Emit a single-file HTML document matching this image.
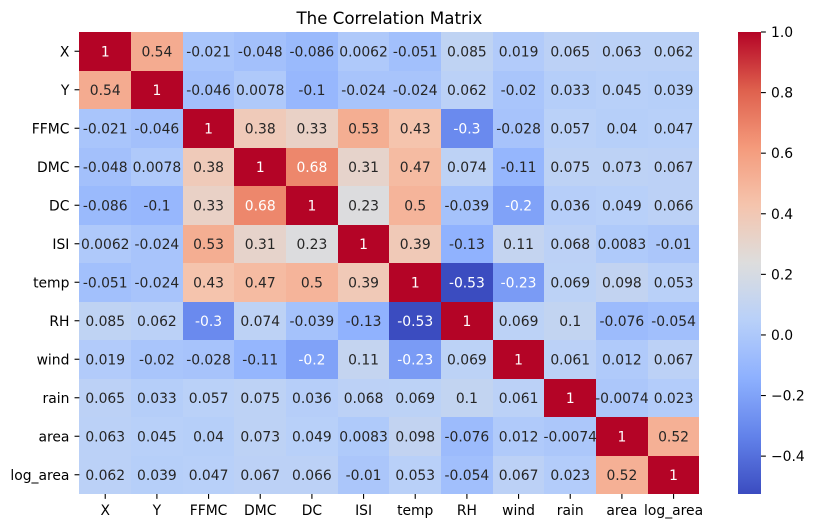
<!DOCTYPE html>
<html lang="en">
<head>
<meta charset="utf-8">
<title>The Correlation Matrix</title>
<style>
html,body{margin:0;padding:0;background:#fff;width:814px;height:528px;overflow:hidden}
svg{display:block}
text{font-family:"DejaVu Sans","Liberation Sans",sans-serif;font-size:13.89px}
</style>
</head>
<body>
<svg id="chart" width="814" height="528" viewBox="0 0 814 528" xmlns="http://www.w3.org/2000/svg">
  <defs>
    <linearGradient id="cbar-gradient" x1="0" y1="1" x2="0" y2="0"></linearGradient>
  </defs>
  <rect x="0" y="0" width="814" height="528" fill="#ffffff"></rect>
  <text x="389.4" y="24" text-anchor="middle" style="font-size:16.67px" fill="#000">The Correlation Matrix</text>
  <g id="cells" shape-rendering="crispEdges"></g>
  <g id="annots"></g>
  <g id="xaxis"></g>
  <g id="yaxis"></g>
  <rect id="cbar" x="738" y="32" width="23" height="462" fill="url(#cbar-gradient)"></rect>
  <g id="cbar-axis"></g>
</svg>
<script>
const categories = ["X","Y","FFMC","DMC","DC","ISI","temp","RH","wind","rain","area","log_area"];
const rowX = [1,0.54,-0.021,-0.048,-0.086,0.0062,-0.051,0.085,0.019,0.065,0.063,0.062];
const rowY = [0.54,1,-0.046,0.0078,-0.1,-0.024,-0.024,0.062,-0.02,0.033,0.045,0.039];
const rowFFMC = [-0.021,-0.046,1,0.38,0.33,0.53,0.43,-0.3,-0.028,0.057,0.04,0.047];
const rowDMC = [-0.048,0.0078,0.38,1,0.68,0.31,0.47,0.074,-0.11,0.075,0.073,0.067];
const rowDC = [-0.086,-0.1,0.33,0.68,1,0.23,0.5,-0.039,-0.2,0.036,0.049,0.066];
const rowISI = [0.0062,-0.024,0.53,0.31,0.23,1,0.39,-0.13,0.11,0.068,0.0083,-0.01];
const rowTemp = [-0.051,-0.024,0.43,0.47,0.5,0.39,1,-0.53,-0.23,0.069,0.098,0.053];
const rowRH = [0.085,0.062,-0.3,0.074,-0.039,-0.13,-0.53,1,0.069,0.1,-0.076,-0.054];
const rowWind = [0.019,-0.02,-0.028,-0.11,-0.2,0.11,-0.23,0.069,1,0.061,0.012,0.067];
const rowRain = [0.065,0.033,0.057,0.075,0.036,0.068,0.069,0.1,0.061,1,-0.0074,0.023];
const rowArea = [0.063,0.045,0.04,0.073,0.049,0.0083,0.098,-0.076,0.012,-0.0074,1,0.52];
const rowLogArea = [0.062,0.039,0.047,0.067,0.066,-0.01,0.053,-0.054,0.067,0.023,0.52,1];
const matrix = [rowX,rowY,rowFFMC,rowDMC,rowDC,rowISI,rowTemp,rowRH,rowWind,rowRain,rowArea,rowLogArea];
const colorbarTicks = [1.0,0.8,0.6,0.4,0.2,0.0,-0.2,-0.4];
const colorDomain = [-0.525,1];
const coolwarmStops = [[59,76,192],[98,130,234],[141,176,254],[184,208,249],[221,221,221],[245,196,173],[244,154,123],[222,96,77],[180,4,38]];

const NS = "http://www.w3.org/2000/svg";
const plot = {left:79.4, right:699.4, top:32, bottom:494};
const cbarBox = {left:738, right:761, top:32, bottom:494};
const tickLen = 4.86;
const textDark = "#262626";

function xBand(i){ return plot.left + (plot.right - plot.left) * i / categories.length; }
function yBand(i){ return plot.top + (plot.bottom - plot.top) * i / categories.length; }
function norm(v){ return Math.max(0, Math.min(1, (v - colorDomain[0]) / (colorDomain[1] - colorDomain[0]))); }
function cbarY(v){ return cbarBox.bottom - norm(v) * (cbarBox.bottom - cbarBox.top); }
function coolwarm(t){
  const p = t * (coolwarmStops.length - 1);
  const i = Math.min(Math.floor(p), coolwarmStops.length - 2);
  const f = p - i;
  return coolwarmStops[i].map((c, k) => c + (coolwarmStops[i + 1][k] - c) * f);
}
function rgbStr(c){ return "rgb(" + c.map(Math.round).join(",") + ")"; }
function luminance(c){
  const l = c.map(x => { x = x / 255; return x <= 0.03928 ? x / 12.92 : Math.pow((x + 0.055) / 1.055, 2.4); });
  return 0.2126 * l[0] + 0.7152 * l[1] + 0.0722 * l[2];
}
function make(tag, attrs, parent, txt){
  const el = document.createElementNS(NS, tag);
  for (const k in attrs) el.setAttribute(k, attrs[k]);
  if (txt !== undefined) el.textContent = txt;
  parent.appendChild(el);
  return el;
}

const cellsG = document.getElementById("cells");
const annotsG = document.getElementById("annots");
const xG = document.getElementById("xaxis");
const yG = document.getElementById("yaxis");
const cbG = document.getElementById("cbar-axis");
const grad = document.getElementById("cbar-gradient");

matrix.forEach((row, r) => {
  row.forEach((v, c) => {
    const col = coolwarm(norm(v));
    const x0 = Math.round(xBand(c)), x1 = Math.round(xBand(c + 1));
    const y0 = Math.round(yBand(r)), y1 = Math.round(yBand(r + 1));
    const cell = make("rect", {x:x0, y:y0, width:x1 - x0, height:y1 - y0, fill:rgbStr(col)}, cellsG);
    
    
    const label = make("text", {
      x:(xBand(c) + xBand(c + 1)) / 2,
      y:(yBand(r) + yBand(r + 1)) / 2 + 5,
      "text-anchor":"middle",
      fill: luminance(col) > 0.408 ? textDark : "#ffffff"
    }, annotsG, String(v));
    
    
  });
});

categories.forEach((name, i) => {
  const cx = (xBand(i) + xBand(i + 1)) / 2;
  const cy = (yBand(i) + yBand(i + 1)) / 2;
  const xt = make("line", {x1:cx, x2:cx, y1:plot.bottom, y2:plot.bottom + tickLen, stroke:"#000", "stroke-width":1.1}, xG);
  
  
  const xl = make("text", {x:cx, y:515, "text-anchor":"middle", fill:"#000"}, xG, name);
  
  
  const yt = make("line", {x1:plot.left - tickLen, x2:plot.left, y1:cy, y2:cy, stroke:"#000", "stroke-width":1.1}, yG);
  
  
  const yl = make("text", {x:plot.left - 10, y:cy + 5, "text-anchor":"end", fill:"#000"}, yG, name);
  
  
});

for (let i = 0; i <= 32; i++) {
  const t = i / 32;
  make("stop", {offset:t, "stop-color":rgbStr(coolwarm(t))}, grad);
}

colorbarTicks.forEach(v => {
  const y = cbarY(v);
  const tk = make("line", {x1:cbarBox.right, x2:cbarBox.right + tickLen, y1:y, y2:y, stroke:"#000", "stroke-width":1.1}, cbG);
  
  
  const lb = make("text", {x:cbarBox.right + 10, y:y + 5, fill:"#000"}, cbG, v.toFixed(1).replace("-", "\u2212"));
  
  
});
</script>
</body>
</html>
